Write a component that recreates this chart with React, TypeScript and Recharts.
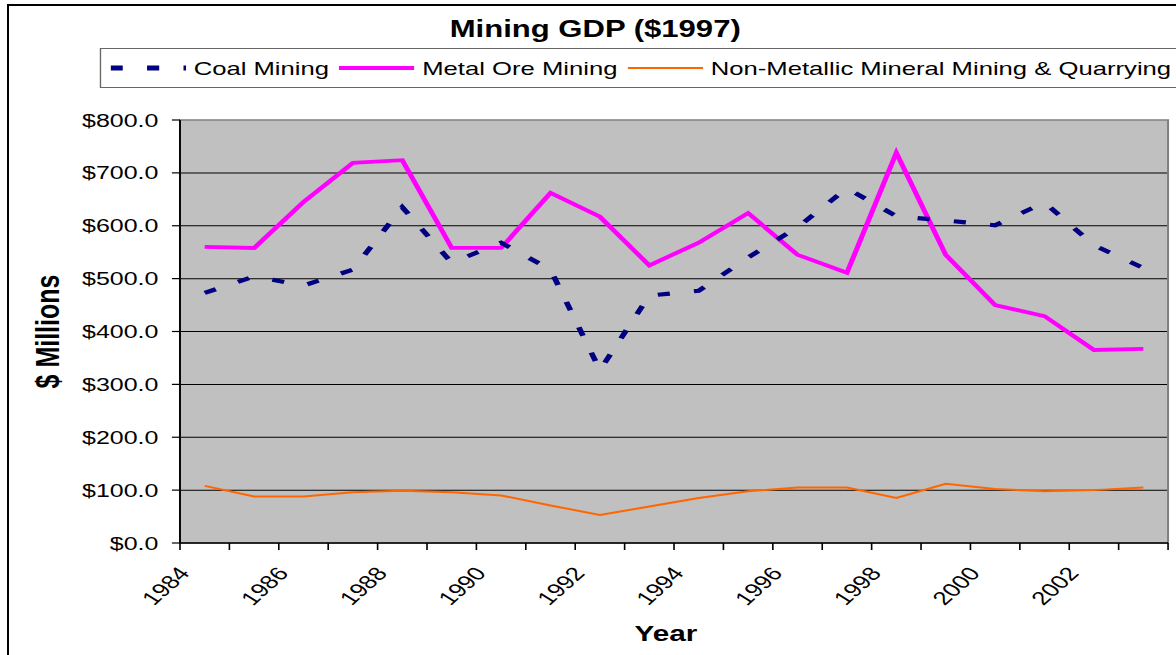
// Mining GDP ($1997) — line chart, drawn narrow and stretched sideways like the source image
import { LineChart, Line, XAxis, YAxis, CartesianGrid, ReferenceArea } from 'recharts';

const years = [1984, 1985, 1986, 1987, 1988, 1989, 1990, 1991, 1992, 1993, 1994, 1995, 1996, 1997, 1998, 1999, 2000, 2001, 2002, 2003];
const coalMining = [473, 504, 487, 517, 635, 530, 568, 517, 327, 468, 477, 540, 597, 671, 618, 610, 601, 644, 563, 520];
const metalOreMining = [560, 558, 645, 719, 724, 558, 558, 662, 617, 525, 568, 624, 545, 511, 738, 545, 450, 429, 365, 367];
const nonMetallicMining = [108, 88, 88, 96, 99, 96, 90, 71, 53, 69, 85, 98, 105, 105, 85, 112, 102, 98, 100, 105];
const yTicks = [0, 100, 200, 300, 400, 500, 600, 700, 800];
const gridValues = [100, 200, 300, 400, 500, 600, 700];
const xTicks = [1984, 1985, 1986, 1987, 1988, 1989, 1990, 1991, 1992, 1993, 1994, 1995, 1996, 1997, 1998, 1999, 2000, 2001, 2002, 2003, 2004];

// each year sits in the middle of its slot, labels sit on the slot edges
const data = years.map((year, i) => ({
  x: year + 0.5,
  coal: coalMining[i],
  metal: metalOreMining[i],
  nonMetal: nonMetallicMining[i],
}));

const FONT = '"Liberation Sans", Arial, Helvetica, sans-serif';
const STRETCH = 1.35;
const W = 880;
const H = 655;

function YearTick(props: any) {
  const { x, y, payload } = props;
  const v = payload.value;
  if (v % 2 !== 0 || v >= 2004) return null;
  const tx = x + 8;
  const ty = y + 22;
  return (
    <text x={tx} y={ty} textAnchor="end" transform={`rotate(-50 ${tx} ${ty})`}
      fontSize={19} fontFamily={FONT} fill="#000">
      {v}
    </text>
  );
}

function YTitle(props: any) {
  const vb = props.viewBox;
  const cx = 29;
  const cy = vb.y + vb.height / 2;
  return (
    <text x={cx} y={cy} transform={`rotate(-90 ${cx} ${cy})`} textAnchor="middle"
      dominantBaseline="central" fontSize={25} fontWeight="bold" fontFamily={FONT} fill="#000">
      $ Millions
    </text>
  );
}

function XTitle(props: any) {
  const vb = props.viewBox;
  return (
    <text x={vb.x + vb.width / 2 - 6} y={641} textAnchor="middle"
      fontSize={22} fontWeight="bold" fontFamily={FONT} fill="#000">
      Year
    </text>
  );
}

function Swatch({ color, width, dash }: { color: string; width: number; dash?: string }) {
  return (
    <svg width={56} height={12} style={{ display: 'block', flex: 'none' }}>
      <line x1={0} y1={6} x2={56} y2={6} stroke={color} strokeWidth={width} strokeDasharray={dash} />
    </svg>
  );
}

const legendItems = [
  { name: 'Coal Mining', color: '#000080', width: 5, dash: '9 18' },
  { name: 'Metal Ore Mining', color: '#FF00FF', width: 4 },
  { name: 'Non-Metallic Mineral Mining & Quarrying', color: '#FF6600', width: 2 },
];

export default function App() {
  return (
    <div style={{ position: 'absolute', left: 0, top: 0, width: 1176, height: 655, overflow: 'hidden', background: '#fff', fontFamily: FONT }}>
      <div style={{ position: 'absolute', left: 7, top: 4, width: 1240, height: 720, border: '2px solid #000', boxSizing: 'border-box' }} />
      <div style={{ position: 'absolute', left: 8, top: 0, width: W, height: H, transform: `scaleX(${STRETCH})`, transformOrigin: '0 0' }}>
        <div style={{ position: 'absolute', left: 0, top: 17.5, width: 870, textAlign: 'center', fontSize: 23, lineHeight: '23px', fontWeight: 'bold', color: '#000', zIndex: 1 }}>
          Mining GDP ($1997)
        </div>
        <div style={{
          position: 'absolute', left: 68, top: 48, width: 820, height: 40, boxSizing: 'border-box',
          border: '1px solid #666', background: '#fff', display: 'flex', alignItems: 'center',
          paddingLeft: 7, zIndex: 1,
        }}>
          {legendItems.map((item) => (
            <div key={item.name} style={{ display: 'flex', alignItems: 'center', marginRight: 7.5 }}>
              <Swatch color={item.color} width={item.width} dash={item.dash} />
              <span style={{ marginLeft: 5.5, fontSize: 19, lineHeight: '19px', whiteSpace: 'nowrap', color: '#000' }}>{item.name}</span>
            </div>
          ))}
        </div>
        <LineChart width={W} height={H} data={data} margin={{ top: 120, right: 20.7, bottom: 52, left: 0 }}>
          <CartesianGrid vertical={false} stroke="#000" strokeWidth={1} fill="#C0C0C0" fillOpacity={1}
            horizontalValues={gridValues} />
          <ReferenceArea x1={1984} x2={2004} y1={0} y2={800} fill="none" stroke="#808080" strokeWidth={1.5} />
          <XAxis type="number" dataKey="x" domain={[1984, 2004]} ticks={xTicks} interval={0}
            tick={<YearTick />} tickSize={7} tickMargin={2} height={60}
            axisLine={{ stroke: '#000', strokeWidth: 1.5 }} tickLine={{ stroke: '#000', strokeWidth: 1.2 }}
            label={(p: any) => <XTitle {...p} />} />
          <YAxis type="number" domain={[0, 800]} ticks={yTicks} interval={0} width={127.4}
            tickSize={6} tickMargin={10}
            tick={{ fontSize: 18.5, fill: '#000', fontFamily: FONT }}
            tickFormatter={(v: number) => `$${v.toFixed(1)}`}
            axisLine={{ stroke: '#000', strokeWidth: 1.4 }} tickLine={{ stroke: '#000', strokeWidth: 1.2 }}
            label={(p: any) => <YTitle {...p} />} />
          <Line type="linear" dataKey="nonMetal" stroke="#FF6600" strokeWidth={2} dot={false} activeDot={false}
            isAnimationActive={false} name="Non-Metallic Mineral Mining & Quarrying" />
          <Line type="linear" dataKey="metal" stroke="#FF00FF" strokeWidth={3.8} dot={false} activeDot={false}
            isAnimationActive={false} name="Metal Ore Mining" />
          <Line type="linear" dataKey="coal" stroke="#000080" strokeWidth={4.2} strokeDasharray="9 18"
            dot={false} activeDot={false} isAnimationActive={false} name="Coal Mining" />
        </LineChart>
      </div>
    </div>
  );
}
